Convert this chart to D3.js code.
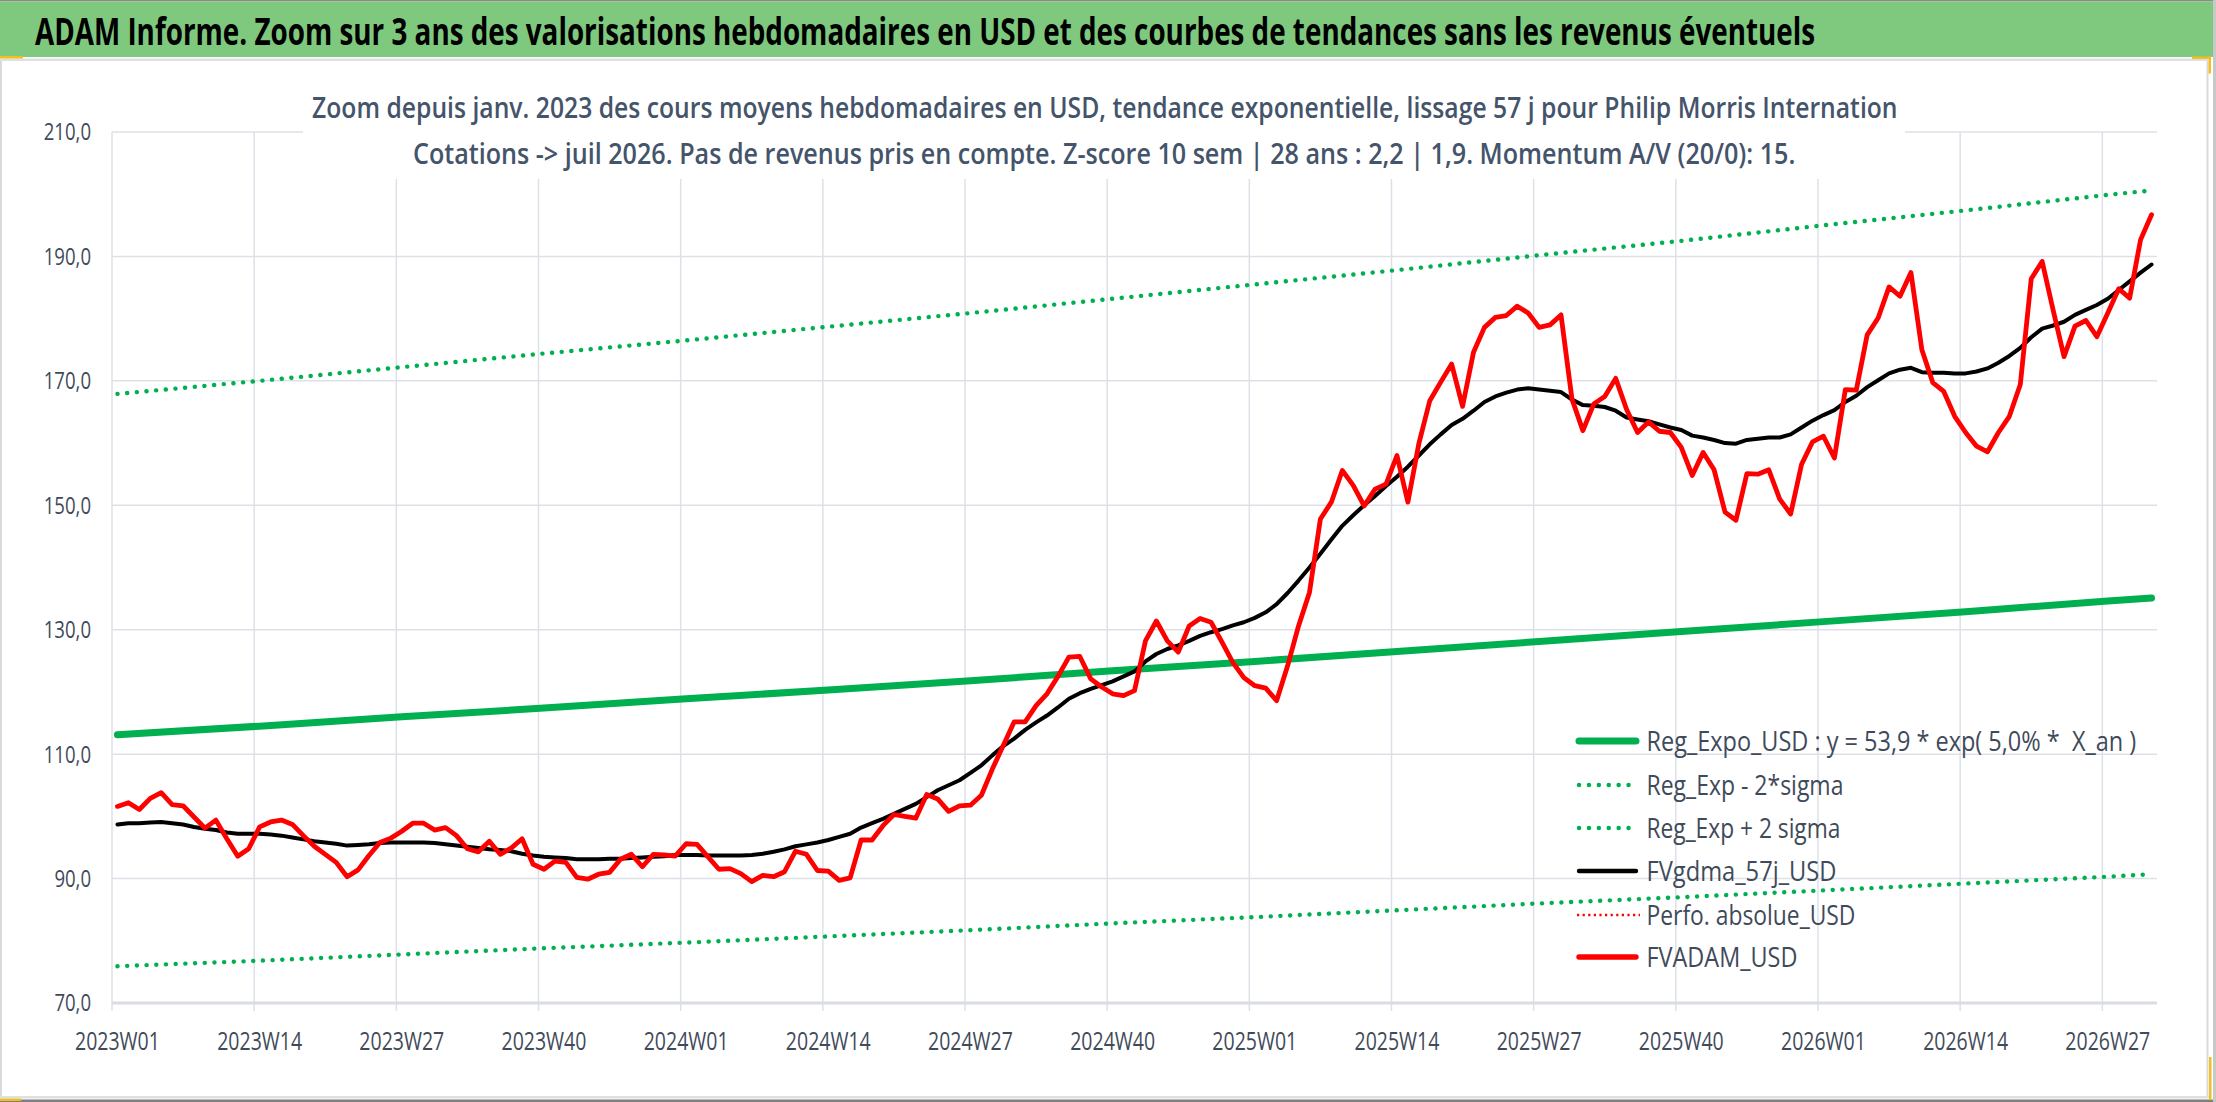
<!DOCTYPE html>
<html><head><meta charset="utf-8">
<script src="https://cdn.jsdelivr.net/npm/d3@7/dist/d3.min.js"></script>
<style>html,body{margin:0;padding:0;background:#fff;overflow:hidden;} svg{display:block;}</style>
</head><body>
<svg id="c" width="2216" height="1102"></svg>
<script>
// ---------- DATA ----------
const years = [2023, 2024, 2025, 2026];
const weeksPerYear = [52, 52, 52, 31];
const categories = [];
years.forEach((yr, k) => { for (let w = 1; w <= weeksPerYear[k]; w++) categories.push(yr + "W" + String(w).padStart(2, "0")); });

const tickLabels = ["2023W01","2023W14","2023W27","2023W40","2024W01","2024W14","2024W27","2024W40",
  "2025W01","2025W14","2025W27","2025W40","2026W01","2026W14","2026W27"];
const yTicks = [70, 90, 110, 130, 150, 170, 190, 210];

// trend curves read at each labelled week + last week
const trendWeeks = ["2023W01","2023W14","2023W27","2023W40","2024W01","2024W14","2024W27","2024W40",
  "2025W01","2025W14","2025W27","2025W40","2026W01","2026W14","2026W27","2026W31"];
const regExpo  = [113.1,114.5,116.0,117.4,118.9,120.3,121.8,123.4,124.9,126.5,128.1,129.7,131.3,132.9,134.6,135.1];
const regMinus = [75.9,76.8,77.8,78.8,79.7,80.7,81.7,82.8,83.8,84.9,86.0,87.0,88.1,89.2,90.3,90.7];
const regPlus  = [167.9,170.0,172.2,174.4,176.5,178.7,180.9,183.2,185.5,187.8,190.2,192.5,195.0,197.4,199.9,200.6];

// weekly series
const fvgdma = [
 98.7,98.9,98.9,99.0,99.1,98.9,98.7,98.3,98.0,97.8,
 97.4,97.2,97.2,97.2,97.1,96.9,96.6,96.3,96.0,95.8,
 95.6,95.3,95.4,95.5,95.7,95.8,95.8,95.8,95.8,95.7,
 95.5,95.3,95.1,94.9,94.7,94.6,94.4,94.0,93.7,93.5,
 93.4,93.3,93.1,93.1,93.1,93.2,93.2,93.3,93.4,93.5,
 93.6,93.8,93.8,93.8,93.7,93.7,93.7,93.7,93.8,94.0,
 94.3,94.7,95.2,95.5,95.8,96.2,96.7,97.2,98.2,98.9,
 99.6,100.4,101.2,102.0,103.1,104.2,105.0,105.8,107.0,108.2,
 109.8,111.3,112.5,113.9,115.1,116.2,117.5,118.9,119.8,120.5,
 121.1,121.7,122.5,123.3,124.9,126.1,126.9,127.5,128.2,129.0,
 129.6,130.1,130.7,131.2,131.9,132.8,134.1,135.9,137.9,140.0,
 142.2,144.5,146.7,148.4,150.0,151.5,153.1,154.6,156.2,158.0,
 159.8,161.4,162.9,163.9,165.2,166.6,167.5,168.1,168.6,168.8,
 168.6,168.4,168.2,167.0,166.1,166.0,165.8,165.2,164.1,163.8,
 163.5,163.0,162.5,162.1,161.2,160.9,160.5,160.0,159.9,160.5,
 160.7,160.9,160.9,161.4,162.5,163.6,164.5,165.3,166.6,167.6,
 169.0,170.1,171.2,171.8,172.1,171.4,171.3,171.3,171.2,171.2,
 171.5,172.0,172.9,174.0,175.3,177.0,178.4,178.9,179.5,180.6,
 181.4,182.2,183.2,184.6,186.0,187.4,188.7];

const fvadam = [
 101.6,102.2,101.1,102.9,103.8,101.9,101.7,99.9,98.1,99.4,
 96.4,93.6,94.8,98.3,99.1,99.4,98.7,96.9,95.2,93.9,
 92.6,90.3,91.4,93.7,95.8,96.5,97.6,98.9,98.9,97.8,
 98.2,96.9,94.8,94.3,96.0,93.9,94.9,96.4,92.3,91.5,
 92.8,92.6,90.2,89.9,90.7,91.0,93.1,93.9,91.9,93.9,
 93.8,93.6,95.6,95.5,93.5,91.5,91.6,90.8,89.5,90.5,
 90.3,91.1,94.4,93.9,91.3,91.2,89.7,90.1,96.2,96.2,
 98.5,100.3,100.0,99.7,103.5,102.8,100.8,101.7,101.8,103.4,
 107.6,111.4,115.2,115.2,117.8,119.7,122.5,125.6,125.7,122.1,
 120.8,119.7,119.4,120.2,128.2,131.4,128.2,126.4,130.6,131.8,
 131.2,128.0,124.7,122.3,121.0,120.6,118.6,124.2,130.6,136.0,
 147.8,150.5,155.6,153.2,149.9,152.6,153.4,158.0,150.5,159.9,
 166.8,169.8,172.7,165.9,174.6,178.6,180.2,180.5,182.0,180.9,
 178.6,179.0,180.6,167.1,162.0,166.3,167.5,170.4,165.4,161.7,
 163.4,161.9,161.7,159.3,154.8,158.5,155.7,148.9,147.6,155.1,
 155.0,155.7,151.0,148.6,156.6,160.2,161.1,157.6,168.6,168.5,
 177.4,180.1,185.1,183.6,187.4,175.0,169.7,168.3,164.3,161.7,
 159.5,158.6,161.7,164.3,169.4,186.4,189.2,181.4,173.9,178.8,
 179.7,177.1,180.9,184.8,183.3,192.7,196.7];

const headerText = "ADAM Informe. Zoom sur 3 ans des valorisations hebdomadaires en USD et des courbes de tendances sans les revenus éventuels";
const titleLine1 = "Zoom depuis janv. 2023 des cours moyens hebdomadaires en USD, tendance exponentielle, lissage 57 j pour Philip Morris Internation";
const titleLine2 = "Cotations -> juil 2026. Pas de revenus pris en compte. Z-score 10 sem | 28 ans : 2,2 | 1,9. Momentum A/V (20/0): 15.";
const legendNames = ["Reg_Expo_USD : y = 53,9 * exp( 5,0% *  X_an )","Reg_Exp - 2*sigma","Reg_Exp + 2 sigma",
  "FVgdma_57j_USD","Perfo. absolue_USD","FVADAM_USD"];

// ---------- DRAW ----------
const svg = d3.select("#c");
const FONT = "'Open Sans', 'Noto Sans', 'DejaVu Sans', sans-serif";
const axisColor = "#3f4a5a";
const gridColor = "#dde1e7";
const GREEN = "#00b050";

const plot = {left:112, right:2157, top:132, bottom:1003};
const x = d3.scaleBand().domain(categories).range([plot.left, plot.right]).padding(0);
const bw = x.bandwidth();
const cx = w => x(w) + bw / 2;
const y = d3.scaleLinear().domain([70, 210]).range([plot.bottom, plot.top]);

// narrow text horizontally (the reference uses a tall, condensed face)
function squeezeTo(sel, ax, by, targetW){
  sel.attr("x",0).attr("y",0);
  const L = sel.node().getComputedTextLength();
  sel.attr("transform", `translate(${ax},${by}) scale(${targetW/L},1)`);
}
function squeezeBy(sel, f, axFn, byFn){
  sel.each(function(d){
    d3.select(this).attr("x",0).attr("y",0)
      .attr("transform", `translate(${axFn(d)},${byFn(d)}) scale(${f},1)`);
  });
}

// frame / header
svg.append("rect").attr("x",0).attr("y",0).attr("width",2216).attr("height",1102).attr("fill","#fff");
svg.append("rect").attr("x",0).attr("y",0).attr("width",2216).attr("height",1.5).attr("fill","#8a8a8a");
svg.append("rect").attr("x",0).attr("y",1.5).attr("width",2213).attr("height",55.5).attr("fill","#7fc97f");
svg.append("rect").attr("x",0).attr("y",58.5).attr("width",2208).attr("height",2.5).attr("fill","#e0e0e0");
svg.append("rect").attr("x",0).attr("y",61).attr("width",2).attr("height",1036).attr("fill","#dadada");
svg.append("rect").attr("x",2206.5).attr("y",61).attr("width",2).attr("height",1036).attr("fill","#dadada");
svg.append("rect").attr("x",0).attr("y",1096).attr("width",2210).attr("height",2.5).attr("fill","#e0e0e0");
svg.append("rect").attr("x",0).attr("y",1099.5).attr("width",2216).attr("height",2.5).attr("fill","#808080");
svg.append("rect").attr("x",2213).attr("y",0).attr("width",3).attr("height",1102).attr("fill","#c8c8c8");
// small selection marks
svg.append("rect").attr("x",0).attr("y",56).attr("width",23).attr("height",2.5).attr("fill","#f0c020");
svg.append("rect").attr("x",2192).attr("y",56.5).attr("width",19).attr("height",2.5).attr("fill","#f0c020");
svg.append("rect").attr("x",2208.5).attr("y",56.5).attr("width",2.5).attr("height",17).attr("fill","#f0c020");
svg.append("rect").attr("x",2209).attr("y",1057).attr("width",2.5).attr("height",43).attr("fill","#f0c020");
svg.append("rect").attr("x",0).attr("y",1098.5).attr("width",21).attr("height",2.5).attr("fill","#f0c020");

const header = svg.append("text").attr("font-family",FONT).attr("font-weight",700)
  .attr("font-size",37).attr("fill","#000").text(headerText);
squeezeTo(header, 35, 45, 1781);

// gridlines
const grid = svg.append("g");
grid.selectAll("line.h").data(yTicks.filter(v => v !== 70)).join("line")
  .attr("x1",plot.left).attr("x2",plot.right).attr("y1",d=>y(d)).attr("y2",d=>y(d))
  .attr("stroke",gridColor).attr("stroke-width",1.5);
grid.selectAll("line.v").data(tickLabels).join("line")
  .attr("x1",d=>x(d)).attr("x2",d=>x(d)).attr("y1",plot.top).attr("y2",plot.bottom + 8)
  .attr("stroke",gridColor).attr("stroke-width",1.5);
grid.append("line").attr("x1",plot.left).attr("x2",plot.right).attr("y1",y(70)).attr("y2",y(70))
  .attr("stroke","#d9dce2").attr("stroke-width",2.8);

// title box (white, hides grid)
svg.append("rect").attr("x",303).attr("y",66).attr("width",1602).attr("height",113).attr("fill","#fff");
const t1 = svg.append("text").attr("font-family",FONT).attr("font-weight",600).attr("font-size",29)
  .attr("fill","#44546a").text(titleLine1);
squeezeTo(t1, 312, 118, 1586);
const t2 = svg.append("text").attr("font-family",FONT).attr("font-weight",600).attr("font-size",29)
  .attr("fill","#44546a").text(titleLine2);
squeezeTo(t2, 413, 164, 1383);

// axes labels
const yl = svg.append("g").selectAll("text").data(yTicks).join("text")
  .attr("dy","0.36em").attr("text-anchor","end")
  .attr("font-family",FONT).attr("font-size",23.5).attr("fill",axisColor)
  .text(d => d3.format(".1f")(d).replace(".", ","));
squeezeBy(yl, 0.79, () => 91, d => y(d));
const xl = svg.append("g").selectAll("text").data(tickLabels).join("text")
  .attr("text-anchor","middle")
  .attr("font-family",FONT).attr("font-size",25).attr("fill",axisColor).text(d=>d);
squeezeBy(xl, 0.78, d => cx(d), () => 1050);

// series
const lineW = d3.line().x(d=>cx(d.w)).y(d=>y(d.v));
const trend = arr => trendWeeks.map((w,i)=>({w, v:arr[i]}));
const weekly = arr => categories.map((w,i)=>({w, v:arr[i]}));

const series = svg.append("g").attr("fill","none").attr("stroke-linejoin","round");
series.append("path").attr("d", lineW(trend(regExpo))).attr("stroke",GREEN).attr("stroke-width",7).attr("stroke-linecap","round");
series.append("path").attr("d", lineW(trend(regMinus))).attr("stroke",GREEN).attr("stroke-width",4.4)
  .attr("stroke-linecap","round").attr("stroke-dasharray","0.1 9.6");
series.append("path").attr("d", lineW(trend(regPlus))).attr("stroke",GREEN).attr("stroke-width",4.4)
  .attr("stroke-linecap","round").attr("stroke-dasharray","0.1 9.6");
series.append("path").attr("d", lineW(weekly(fvgdma))).attr("stroke","#000").attr("stroke-width",4).attr("stroke-linecap","round");
series.append("path").attr("d", lineW(weekly(fvadam))).attr("stroke","#ff0000").attr("stroke-width",4.8).attr("stroke-linecap","round");

// legend
const legendStyles = [
  {stroke:GREEN, w:7, dash:null, cap:"round"},
  {stroke:GREEN, w:4.4, dash:"0.1 9.8", cap:"round"},
  {stroke:GREEN, w:4.4, dash:"0.1 9.8", cap:"round"},
  {stroke:"#000", w:4.4, dash:null, cap:"round"},
  {stroke:"#ff0000", w:2.6, dash:"2.2 3.4", cap:"butt"},
  {stroke:"#ff0000", w:5.4, dash:null, cap:"round"}
];
const legendRowY = [741, 785, 828, 871, 915, 957];
const legendWidths = [490, 197, 194, 190, 209, 151];
const lg = svg.append("g");
legendNames.forEach((name, i) => {
  const st = legendStyles[i];
  const ly = legendRowY[i];
  const ln = lg.append("line").attr("x1", st.cap==="round" ? 1579 : 1577).attr("x2", st.cap==="round" ? 1636 : 1640)
    .attr("y1", ly).attr("y2", ly).attr("stroke", st.stroke).attr("stroke-width", st.w).attr("stroke-linecap", st.cap);
  if (st.dash) ln.attr("stroke-dasharray", st.dash);
  const tx = lg.append("text").attr("dy","0.36em").style("white-space","pre")
    .attr("font-family",FONT).attr("font-size",28).attr("fill",axisColor).text(name);
  squeezeTo(tx, 1646.5, ly, legendWidths[i]);
});
</script>
</body></html>
